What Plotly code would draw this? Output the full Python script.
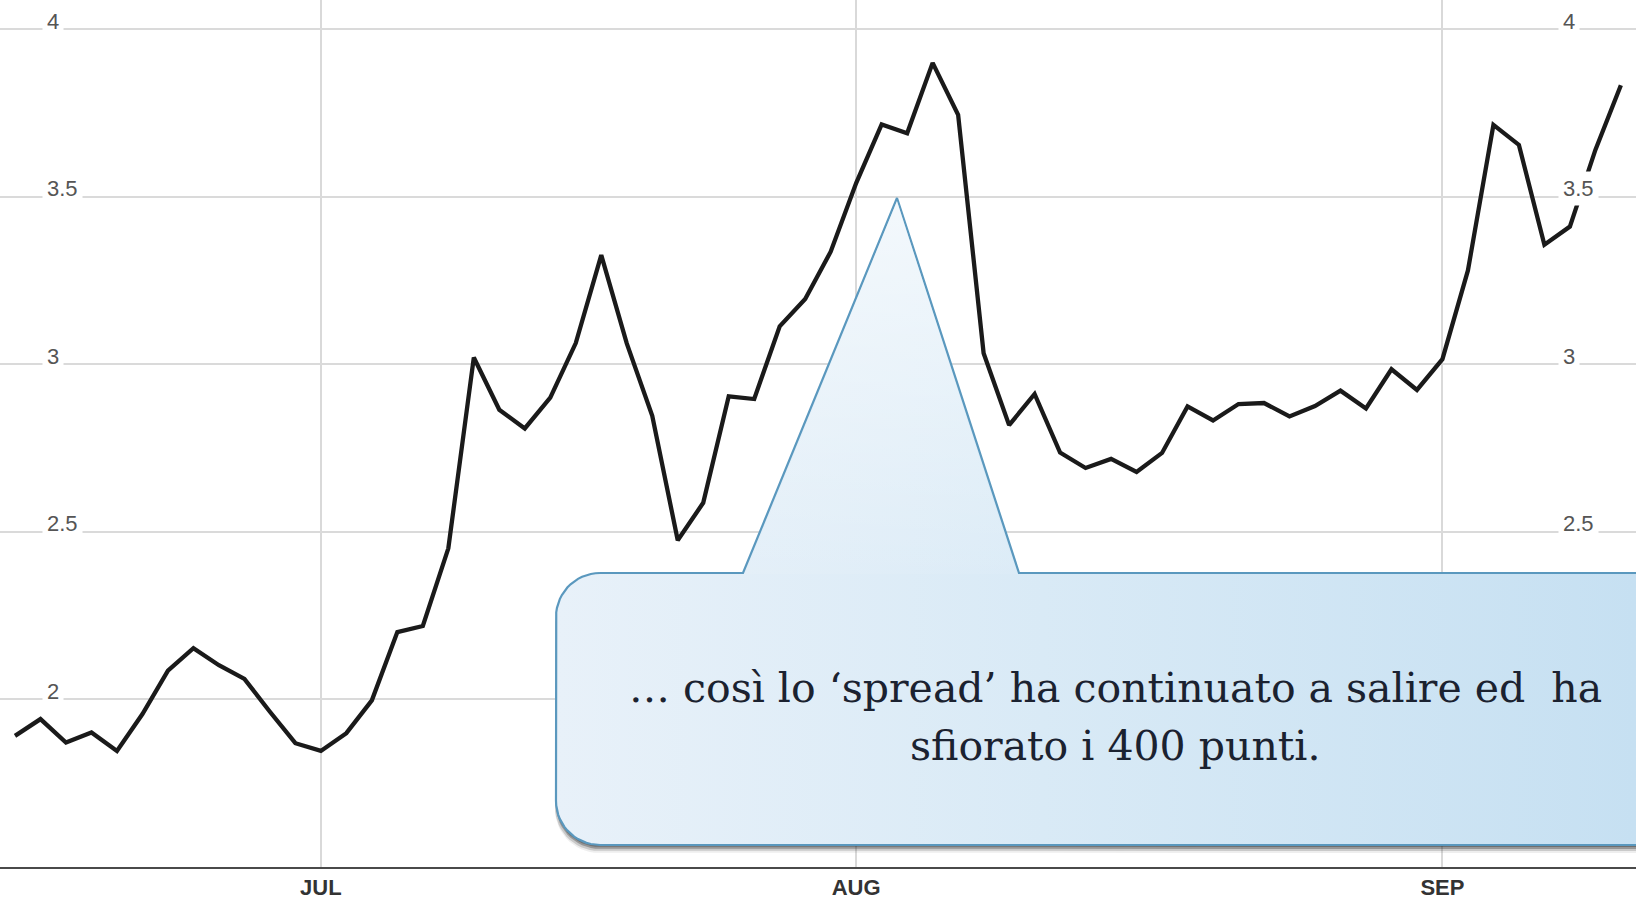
import numpy as np
import plotly.graph_objects as go

# Daily spread (percentage points), one value per trading day, mid-June to mid-September
spread = [
    1.89, 1.94, 1.87, 1.90, 1.845, 1.955, 2.085, 2.152, 2.101, 2.06,
    1.962, 1.868, 1.845, 1.898, 1.996, 2.20, 2.218, 2.45, 3.02, 2.864,
    2.808, 2.90, 3.063, 3.326, 3.062, 2.846, 2.474, 2.586, 2.904, 2.896,
    3.113, 3.195, 3.336, 3.541, 3.716, 3.69, 3.90, 3.745, 3.033, 2.818,
    2.911, 2.736, 2.69, 2.717, 2.678, 2.735, 2.874, 2.832, 2.881, 2.884,
    2.844, 2.875, 2.921, 2.868, 2.985, 2.923, 3.015, 3.28, 3.715, 3.655,
    3.357, 3.411, 3.64, 3.833,
]
day_index = list(range(len(spread)))

# Month starts (trading-day index) and their labels
month_pos = [12, 33, 56]
month_labels = ["JUL", "AUG", "SEP"]

# Value gridlines and labels
y_ticks = [2, 2.5, 3, 3.5, 4]
y_tick_labels = ["2", "2.5", "3", "3.5", "4"]

callout_lines = [
    "… così lo ‘spread’ ha continuato a salire ed\u00a0 ha",
    "sfiorato i 400 punti.",
]

W, H = 1636, 900
PLOT_H = 867

fig = go.Figure()

fig.add_trace(go.Scatter(
    x=day_index, y=spread, mode="lines",
    line=dict(color="#1a1a1a", width=4.3),
    hoverinfo="skip", showlegend=False,
))


# ---- speech-bubble callout, drawn on a pixel-unit overlay (y grows downward)
def bubble_path(x0, y0, x1, y1, r, notch=None):
    xs, ys = [], []
    xs.append(x0 + r); ys.append(y0)
    if notch is not None:
        nl, ax, ay, nr = notch
        xs += [nl, ax, nr]; ys += [y0, ay, y0]
    xs += [x1, x1]; ys += [y0, y1]
    xs.append(x0 + r); ys.append(y1)
    t = np.linspace(np.pi / 2, np.pi, 16)
    xs += list(x0 + r + r * np.cos(t)); ys += list(y1 - r + r * np.sin(t))
    t = np.linspace(np.pi, 1.5 * np.pi, 16)
    xs += list(x0 + r + r * np.cos(t)); ys += list(y0 + r + r * np.sin(t))
    xs.append(x0 + r); ys.append(y0)
    return xs, ys


box_l, box_t, box_r, box_b, radius = 556, 573, 1720, 845, 44
notch = (743, 897, 198, 1019)

# soft drop shadow under the bubble
for dx, dy, a in [(-1, 8, 0.08), (-1, 6, 0.18), (0, 4, 0.32), (0, 2, 0.35)]:
    sx, sy = bubble_path(box_l + dx, box_t + dy, box_r + dx, box_b + dy, radius)
    fig.add_trace(go.Scatter(
        x=sx, y=sy, xaxis="x2", yaxis="y2", mode="lines",
        fill="toself", fillcolor=f"rgba(40,40,40,{a})",
        line=dict(width=0), hoverinfo="skip", showlegend=False,
    ))

bx, by = bubble_path(box_l, box_t, box_r, box_b, radius, notch)
fig.add_trace(go.Scatter(
    x=bx, y=by, xaxis="x2", yaxis="y2", mode="lines",
    fill="toself",
    fillgradient=dict(
        type="horizontal", start=556, stop=1636,
        colorscale=[[0, "#e8f1f9"], [0.45, "#d9eaf6"], [1, "#c6e0f2"]],
    ),
    line=dict(color="#5a98be", width=2.2),
    hoverinfo="skip", showlegend=False,
))

# lighter sheen on the pointer, fading downward
nl, ax, ay, nr = notch
fig.add_trace(go.Scatter(
    x=[nl + 2, ax, nr - 2, nl + 2], y=[box_t + 1, ay + 3, box_t + 1, box_t + 1],
    xaxis="x2", yaxis="y2", mode="lines", fill="toself",
    fillgradient=dict(
        type="vertical", start=ay, stop=box_t + 40,
        colorscale=[[0, "rgba(255,255,255,0.65)"], [1, "rgba(255,255,255,0)"]],
    ),
    line=dict(width=0), hoverinfo="skip", showlegend=False,
))

annotations = []
for i, line in enumerate(callout_lines):
    annotations.append(dict(
        x=1115, y=[688, 746][i], xref="x2", yref="y2",
        text=line, showarrow=False, xanchor="center", yanchor="middle",
        font=dict(family="Georgia, 'DejaVu Serif', serif", size=41, color="#1b2230"),
    ))

# value labels on both sides, boxed in white so they interrupt gridlines;
# on the right the lowest one sits behind the bubble
for v, lab in zip(y_ticks, y_tick_labels):
    sides = (42, 1558) if v > 2 else (42,)
    for px in sides:
        annotations.append(dict(
            x=px / W, y=v, xref="paper", yref="y", yshift=8,
            text=lab, showarrow=False, xanchor="left", yanchor="middle",
            font=dict(family="Arial, 'Liberation Sans', sans-serif", size=22, color="#555555"),
            bgcolor="white", borderpad=4,
        ))

px_per_day = 25.49
x0_px = 15.0
px_per_unit = 334.8
fig.update_layout(
    width=W, height=H,
    margin=dict(l=0, r=0, t=0, b=H - PLOT_H),
    paper_bgcolor="white", plot_bgcolor="white",
    showlegend=False,
    xaxis=dict(
        range=[-x0_px / px_per_day, (W - x0_px) / px_per_day],
        tickvals=month_pos, ticktext=[f"<b>{m}</b>" for m in month_labels],
        tickfont=dict(family="Arial, 'Liberation Sans', sans-serif", size=22, color="#333333"),
        showgrid=True, gridcolor="#d9d9d9", gridwidth=1.5,
        showline=True, linecolor="#4a4a4a", linewidth=2,
        ticks="", zeroline=False, automargin=False, fixedrange=True,
    ),
    yaxis=dict(
        range=[2 - (PLOT_H - 699) / px_per_unit, 2 + 699 / px_per_unit],
        tickvals=y_ticks, showticklabels=False,
        showgrid=True, gridcolor="#dadada", gridwidth=1.5,
        zeroline=False, showline=False, automargin=False, fixedrange=True,
    ),
    xaxis2=dict(range=[0, W], overlaying="x", anchor="y2", visible=False, fixedrange=True),
    yaxis2=dict(range=[PLOT_H, 0], overlaying="y", anchor="x2", visible=False, fixedrange=True),
    annotations=annotations,
)

fig.write_html("out.html")
